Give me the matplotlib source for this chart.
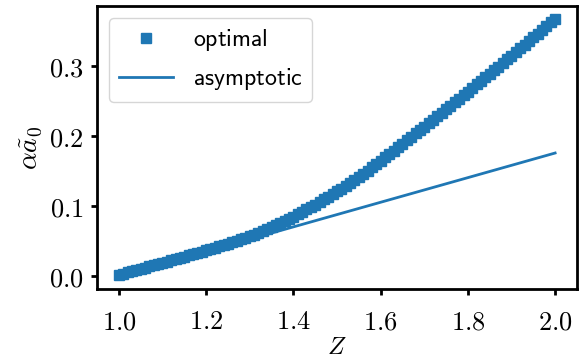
import numpy as np
import matplotlib
matplotlib.use('Agg')
import matplotlib.pyplot as plt
from matplotlib.ticker import FuncFormatter

plt.rcParams['mathtext.fontset'] = 'cm'
plt.rcParams['font.family'] = 'serif'
plt.rcParams['font.serif'] = ['DejaVu Serif']

# optimal solution, one point per 0.01 in Z
z_opt = np.linspace(1.0, 2.0, 101)
a_opt = [0.0020,
         0.0037, 0.0054, 0.0071, 0.0088, 0.0105, 0.0122, 0.0139, 0.0156, 0.0173, 0.0190,
         0.0208, 0.0226, 0.0244, 0.0262, 0.0280, 0.0298, 0.0316, 0.0334, 0.0352, 0.0370,
         0.0388, 0.0406, 0.0425, 0.0444, 0.0464, 0.0484, 0.0505, 0.0526, 0.0548, 0.0570,
         0.0593, 0.0617, 0.0642, 0.0668, 0.0696, 0.0725, 0.0755, 0.0786, 0.0817, 0.0850,
         0.0884, 0.0918, 0.0953, 0.0988, 0.1024, 0.1060, 0.1097, 0.1134, 0.1172, 0.1210,
         0.1250, 0.1291, 0.1333, 0.1376, 0.1420, 0.1464, 0.1509, 0.1555, 0.1602, 0.1650,
         0.1698, 0.1746, 0.1795, 0.1844, 0.1893, 0.1942, 0.1991, 0.2040, 0.2089, 0.2139,
         0.2189, 0.2239, 0.2289, 0.2339, 0.2389, 0.2439, 0.2489, 0.2539, 0.2589, 0.2639,
         0.2689, 0.2740, 0.2791, 0.2842, 0.2893, 0.2944, 0.2995, 0.3046, 0.3098, 0.3150,
         0.3203, 0.3256, 0.3309, 0.3362, 0.3415, 0.3468, 0.3521, 0.3574, 0.3627, 0.3680]

# asymptotic curve
z_asym = [1.0, 1.1, 1.2, 1.3, 1.4, 1.5, 1.6, 1.7, 1.8, 1.9, 2.0]
a_asym = [0.0, 0.0176, 0.0352, 0.0528, 0.0704, 0.088, 0.1056, 0.1232, 0.1408, 0.1584, 0.176]

fs_tick = 19
fs_leg = 17.2

fig = plt.figure(figsize=(5.81, 3.64), dpi=100)
ax = fig.add_axes([0.167, 0.206, 0.826, 0.778])

ax.plot(z_opt, a_opt, 's', color='C0', markersize=6.5, label=r'$\mathsf{optimal}$')
ax.plot(z_asym, a_asym, '-', color='C0', linewidth=2, label=r'$\mathsf{asymptotic}$')

fmt = FuncFormatter(lambda v, p: f'${v:.1f}$')
ax.xaxis.set_major_formatter(fmt)
ax.yaxis.set_major_formatter(fmt)
ax.set_xticks([1.0, 1.2, 1.4, 1.6, 1.8, 2.0])
ax.set_yticks([0.0, 0.1, 0.2, 0.3])

for s in ax.spines.values():
    s.set_linewidth(2)
ax.tick_params(width=2, length=4.5, labelsize=fs_tick)
ax.tick_params(axis='x', pad=10)
ax.tick_params(axis='y', pad=5)

ax.set_xlabel(r'$Z$', fontsize=17.5, labelpad=1)
ax.set_ylabel(r'$\alpha\tilde{a}_0$', fontsize=20, labelpad=4)

ax.legend(loc='upper left', fontsize=fs_leg, handlelength=2.3, handletextpad=0.8,
          labelspacing=0.55)

fig.savefig('out.png', dpi=100)
